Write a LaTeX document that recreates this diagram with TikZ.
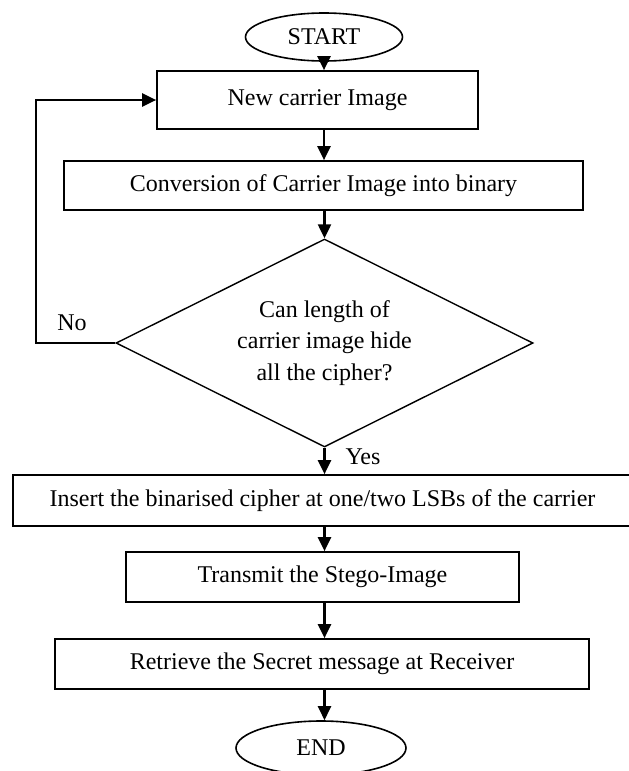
\documentclass[tikz,border=0pt]{standalone}
\usepackage{fontspec}
\setmainfont{Liberation Serif}
\usetikzlibrary{shapes.geometric,arrows.meta}
\begin{document}
\begin{tikzpicture}[x=1pt,y=-1pt,
  every node/.style={font=\fontsize{24}{31.5}\selectfont},
  box/.style={draw,line width=1.7pt,rectangle,inner sep=0pt,align=center},
  term/.style={draw,line width=1.6pt,ellipse,inner sep=0pt},
  arr/.style={line width=2.3pt,-{Triangle[length=14pt,width=13pt]}},
  lbl/.style={inner sep=0pt}]
\useasboundingbox (0,0) rectangle (629,771);
\node[term,minimum width=157pt,minimum height=48pt] (start) at (324,37) {START};
\node[box,minimum width=321pt,minimum height=58pt] (new) at (317.5,100) {New carrier Image};
\node[box,minimum width=519pt,minimum height=49pt] (conv) at (323.5,185.5) {Conversion of Carrier Image into binary};
\node[draw,line width=1.4pt,diamond,aspect=2,inner sep=0pt,minimum width=417pt,minimum height=208pt,align=center] (dec) at (324.5,343) {Can length of\\carrier image hide\\all the cipher?};
\node[box,minimum width=619pt,minimum height=51pt] (ins) at (322.5,500.5) {Insert the binarised cipher at one/two LSBs of the carrier};
\node[box,minimum width=393pt,minimum height=50pt] (trans) at (322.5,577) {Transmit the Stego-Image};
\node[box,minimum width=534pt,minimum height=50pt] (ret) at (322,664) {Retrieve the Secret message at Receiver};
\node[term,minimum width=170pt,minimum height=54pt] (end) at (321,748) {END};
\node[lbl] (no) at (72,323) {No};
\node[lbl] (yes) at (363,457) {Yes};
\coordinate (loop) at (36,343);
\draw[arr] (start.south) -- (start.south |- new.north);
\draw[arr] (new.south -| start.south) -- (start.south |- conv.north);
\draw[arr] (conv.south -| dec.north) -- (dec.north);
\draw[arr] (dec.south) -- (dec.south |- ins.north);
\draw[arr] (ins.south -| dec.south) -- (dec.south |- trans.north);
\draw[arr] (trans.south -| dec.south) -- (dec.south |- ret.north);
\draw[arr] (ret.south -| dec.south) -- (dec.south |- end.north);
\draw[arr] (dec.west) -- (loop) |- (new.west);
\end{tikzpicture}
\end{document}
